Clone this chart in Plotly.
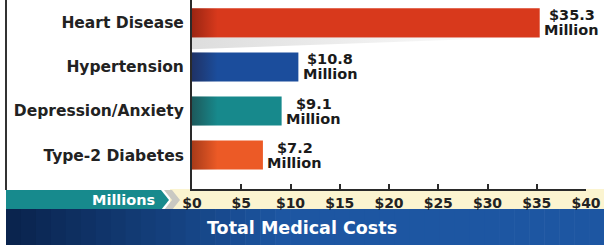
import plotly.graph_objects as go

categories = ["Heart Disease", "Hypertension", "Depression/Anxiety", "Type-2 Diabetes"]
values = [35.3, 10.8, 9.1, 7.2]
bar_colors = ["#d8391c", "#1b4d9c", "#17898c", "#ec5a26"]
x_tickvals = [0, 5, 10, 15, 20, 25, 30, 35, 40]
x_ticktext = ["$0", "$5", "$10", "$15", "$20", "$25", "$30", "$35", "$40"]
axis_label = "Millions"
title_text = "Total Medical Costs"

W, H = 604, 245
FONT = "DejaVu Sans"
ypos = list(range(len(categories)))


def px(x):
    return x / W


def py(y):
    return 1 - y / H


fig = go.Figure()

# shadow under the longest bar
fig.add_trace(go.Scatter(
    x=[0, values[0] * 0.95, 0, 0], y=[ypos[0] + 0.33, ypos[0] + 0.33, ypos[0] + 0.6, ypos[0] + 0.33],
    mode="none", fill="toself",
    fillgradient=dict(type="horizontal",
                      colorscale=[[0, "rgba(170,170,170,0.4)"], [1, "rgba(170,170,170,0)"]]),
    hoverinfo="skip", showlegend=False))

fig.add_trace(go.Bar(
    x=values, y=ypos, orientation="h", width=0.66,
    marker=dict(color=bar_colors, line=dict(width=0)),
    hoverinfo="skip", showlegend=False))

# darker left end of each bar
for i, v in zip(ypos, values):
    g = min(2.6, v * 0.4)
    fig.add_trace(go.Scatter(
        x=[0, g, g, 0, 0], y=[i - 0.33, i - 0.33, i + 0.33, i + 0.33, i - 0.33],
        mode="none", fill="toself",
        fillgradient=dict(type="horizontal",
                          colorscale=[[0, "rgba(40,0,0,0.35)"], [1, "rgba(40,0,0,0)"]]),
        hoverinfo="skip", showlegend=False))

annotations = []
for i, v in zip(ypos, values):
    for txt, ys in ((f"${v}", 7.5), ("Million", -7.5)):
        annotations.append(dict(x=v, y=i, xref="x", yref="y", text=txt, showarrow=False,
                                xanchor="center", yanchor="middle", xshift=32, yshift=ys,
                                height=14, borderpad=0,
                                font=dict(family=FONT, size=14.5, color="#1a1a1a", weight="bold")))

annotations.append(dict(x=px(157), y=py(200), xref="paper", yref="paper", text=axis_label,
                        showarrow=False, xanchor="right", yanchor="middle",
                        font=dict(family=FONT, size=14.5, color="white", weight="bold")))
annotations.append(dict(x=px(302), y=py(228), xref="paper", yref="paper", text=title_text,
                        showarrow=False, xanchor="center", yanchor="middle",
                        font=dict(family=FONT, size=17.5, color="white", weight="bold")))

shapes = []
# beige axis band
shapes.append(dict(type="rect", xref="paper", yref="paper", x0=px(170), x1=1, y0=py(209), y1=py(189),
                   fillcolor="#fbf4d0", line=dict(width=0), layer="below"))
# teal band with chevron
shapes.append(dict(type="path", xref="paper", yref="paper",
                   path=f"M {px(6)},{py(190)} L {px(161)},{py(190)} L {px(169)},{py(200)} L {px(161)},{py(210)} L {px(6)},{py(210)} Z",
                   fillcolor="#178a8d", line=dict(width=0), layer="below"))
shapes.append(dict(type="path", xref="paper", yref="paper",
                   path=f"M {px(164)},{py(190)} L {px(172)},{py(190)} L {px(180)},{py(200)} L {px(172)},{py(210)} L {px(164)},{py(210)} L {px(172)},{py(200)} Z",
                   fillcolor="#c9c9c2", line=dict(width=0), layer="below"))
# blue band gradient strips
n = 40
c0 = (10, 36, 78)
c1 = (29, 86, 162)
for k in range(n):
    x0 = 6 + (W - 6) * k / n
    x1 = 6 + (W - 6) * (k + 1) / n + 0.6
    t = min(1.0, (k / n) / 0.45)
    c = tuple(int(a + (b - a) * t) for a, b in zip(c0, c1))
    shapes.append(dict(type="rect", xref="paper", yref="paper", x0=px(x0), x1=px(x1), y0=0, y1=py(209),
                       fillcolor=f"rgb{c}", line=dict(width=0), layer="below"))
# left border
shapes.append(dict(type="line", xref="paper", yref="paper", x0=px(6), x1=px(6), y0=py(190), y1=1,
                   line=dict(color="#333333", width=2)))

fig.update_layout(
    width=W, height=H,
    margin=dict(l=0, r=0, t=0, b=0),
    paper_bgcolor="white", plot_bgcolor="rgba(0,0,0,0)",
    showlegend=False, barmode="overlay",
    xaxis=dict(domain=[px(192), px(586)], range=[0, 40], tickvals=x_tickvals, ticktext=x_ticktext,
               showgrid=False, zeroline=False, showline=True, linecolor="#2a2a2a", linewidth=2,
               ticks="inside", ticklen=5, tickwidth=2, tickcolor="#2a2a2a",
               tickfont=dict(family=FONT, size=14, color="#222222", weight="bold"),
               automargin=False, fixedrange=True),
    yaxis=dict(domain=[py(189), 1], range=[3.77, -0.52], tickvals=ypos, ticktext=categories,
               showgrid=False, zeroline=False, showline=True, linecolor="#2a2a2a", linewidth=2,
               ticks="", ticklabelstandoff=3,
               tickfont=dict(family=FONT, size=15.5, color="#222222", weight="bold"),
               automargin=False, fixedrange=True),
    annotations=annotations,
    shapes=shapes,
)

fig.write_html(
    "out.html",
    config={"displayModeBar": False, "staticPlot": True},
    post_script="document.body.style.margin='0';document.body.style.overflow='hidden';",
)
